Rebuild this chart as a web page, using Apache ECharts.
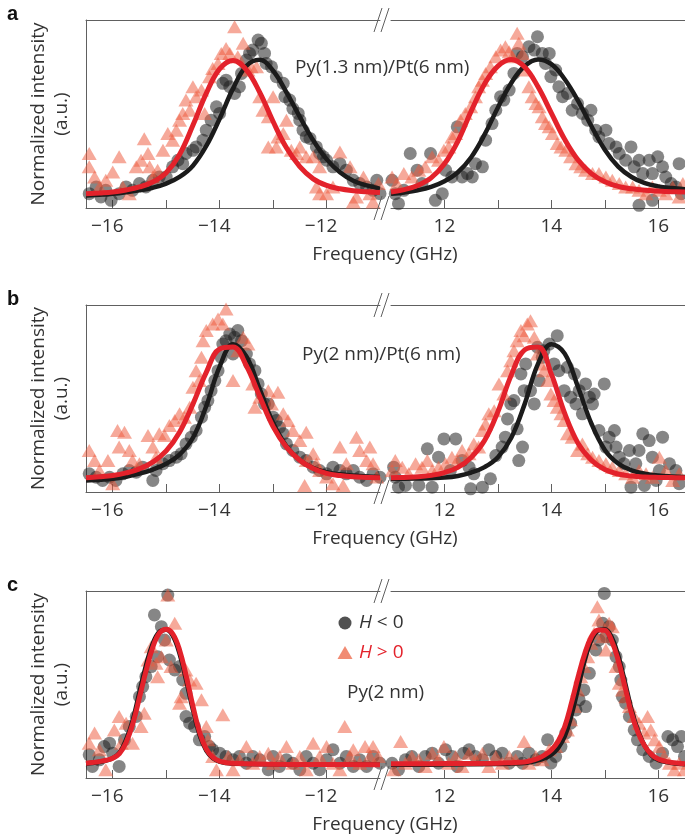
<!DOCTYPE html>
<html>
<head>
<meta charset="utf-8">
<script src="https://cdn.jsdelivr.net/npm/echarts@6/dist/echarts.min.js"></script>
<style>html,body{margin:0;padding:0;background:#fff}#c{width:685px;height:838px}</style>
</head>
<body>
<div id="c"></div>
<script>
// ---------- axis ticks / labels ----------
var LEFT_RANGE = [-16.5, -11];
var RIGHT_RANGE = [11, 16.5];
var LEFT_TICKS = [-16, -15, -14, -13, -12];
var LEFT_LABELS = [-16, -14, -12];
var RIGHT_TICKS = [12, 13, 14, 15, 16];
var RIGHT_LABELS = [12, 14, 16];

// ---------- panel a : Py(1.3 nm)/Pt(6 nm) ----------
var A_L_NEG = [[-16.44,7.6],[-16.31,11.2],[-16.22,5.9],[-16.13,9.4],[-16.03,4.1],[-15.88,7.6],[-15.75,11.2],[-15.63,9.4],[-15.5,13],[-15.38,11.2],[-15.25,14.7],[-15.13,16.5],[-15.0,16.5],[-14.88,21.9],[-14.78,25.4],[-14.69,23.6],[-14.63,29],[-14.5,30.7],[-14.44,32.5],[-14.31,36.1],[-14.25,41.4],[-14.16,46.7],[-14.06,53.8],[-14.0,50.3],[-13.94,66.3],[-13.88,68],[-13.81,64.5],[-13.72,60.9],[-13.63,64.5],[-13.59,71.6],[-13.5,78.7],[-13.44,82.2],[-13.38,84],[-13.28,89.3],[-13.22,87.6],[-13.16,82.2],[-13.13,76.9],[-13.03,75.1],[-12.94,69.8],[-12.81,66.3],[-12.78,59.2],[-12.69,57.4],[-12.63,52.9],[-12.53,50.3],[-12.5,46.7],[-12.44,41.4],[-12.38,37.8],[-12.31,37],[-12.19,32.5],[-12.13,29],[-12.06,27.2],[-12.0,25.4],[-11.88,21.9],[-11.75,23.6],[-11.63,20.1],[-11.5,14.7],[-11.38,13],[-11.25,11.2],[-11.13,9.4],[-11.06,14.7],[-11.0,7.6]];
var A_L_POS = [[-16.44,29],[-16.44,21.9],[-16.34,16.5],[-16.25,11.2],[-16.13,14.7],[-16.0,19.2],[-15.88,27.2],[-15.81,11.2],[-15.69,7.6],[-15.56,21.9],[-15.47,25.4],[-15.41,36.9],[-15.34,29],[-15.31,21.9],[-15.25,16.5],[-15.16,20.1],[-15.06,30.7],[-14.97,39.6],[-14.88,36.1],[-14.81,41.4],[-14.75,46.7],[-14.69,50.3],[-14.63,57.4],[-14.56,52],[-14.5,64.5],[-14.44,59.2],[-14.34,62.7],[-14.28,50.3],[-14.19,69.8],[-14.13,74.2],[-14.03,76.9],[-13.97,82.2],[-13.88,84.9],[-13.81,82.2],[-13.72,96.4],[-13.66,80.5],[-13.56,87.6],[-13.47,73.4],[-13.41,75.1],[-13.31,75.1],[-13.25,59.2],[-13.19,52],[-13.09,48.5],[-13.0,59.2],[-13.09,32.5],[-12.94,32.5],[-12.91,37.8],[-12.81,39.6],[-12.75,46.7],[-12.66,30.7],[-12.56,29],[-12.5,32.5],[-12.38,27.2],[-12.25,27.2],[-12.13,21.9],[-12.19,11.2],[-12.13,7.6],[-12.0,7.6],[-11.88,11.2],[-11.75,29.8],[-11.56,21.9],[-11.5,3.2],[-11.44,5.9],[-11.31,16.5],[-11.19,7.6],[-11.13,3.2],[-11.03,13]];
var A_L_FIT_NEG = [[-16.5,6.7],[-16.25,7.1],[-16,7.6],[-15.75,8.4],[-15.5,9.4],[-15.25,10.8],[-15,13],[-14.75,16.5],[-14.5,22.5],[-14.25,33],[-14,47.5],[-13.75,63.5],[-13.5,75.5],[-13.25,78.8],[-13,73],[-12.75,61.5],[-12.5,48.5],[-12.25,36],[-12,26],[-11.75,19],[-11.5,14.5],[-11.25,12],[-11,10.3]];
var A_L_FIT_POS = [[-16.5,7.6],[-16.25,8.0],[-16,8.5],[-15.75,9.6],[-15.5,11.2],[-15.25,13.8],[-15,18.8],[-14.75,28.5],[-14.5,44],[-14.25,61],[-14,74],[-13.75,78.5],[-13.5,73.5],[-13.25,61.5],[-13,46],[-12.75,32],[-12.5,22],[-12.25,15.5],[-12,12],[-11.75,10.2],[-11.5,9.2],[-11.25,8.6],[-11,8.2]];
var A_R_NEG = [[11.02,14.7],[11.08,7.6],[11.14,2.3],[11.24,9.4],[11.36,29],[11.49,20.1],[11.58,13],[11.74,29],[11.83,4.1],[11.96,7.6],[12.02,20.1],[12.14,16.5],[12.24,43.2],[12.33,16.5],[12.43,18.3],[12.52,16.5],[12.58,23.6],[12.71,21.9],[12.77,36.1],[12.89,44.9],[12.96,52],[13.05,59.2],[13.11,57.4],[13.21,62.7],[13.3,71.6],[13.36,82.2],[13.46,80.5],[13.58,85.8],[13.68,84],[13.74,91.1],[13.83,82.2],[13.89,76.9],[13.96,82.2],[13.99,69.8],[14.08,73.4],[14.14,64.5],[14.21,59.2],[14.3,60.9],[14.39,52],[14.49,55.6],[14.58,50.3],[14.68,46.7],[14.74,52],[14.83,41.4],[14.89,37.8],[15.02,41.4],[15.08,34.3],[15.21,32.5],[15.27,29],[15.39,25.4],[15.49,32.5],[15.55,21.9],[15.64,25.4],[15.71,18.3],[15.83,25.4],[15.89,18.3],[15.99,27.2],[16.08,21.9],[16.14,16.5],[16.24,13],[16.33,11.2],[16.39,23.6],[16.43,7.6],[15.64,1.4],[15.89,4.1]];
var A_R_POS = [[11.02,16.5],[11.11,13],[11.24,18.3],[11.39,16.5],[11.52,20.1],[11.64,21.9],[11.77,27.2],[11.89,25.4],[11.99,30.7],[12.08,32.5],[12.14,37.8],[12.21,39.6],[12.3,46.7],[12.39,50.3],[12.49,53.8],[12.58,59.2],[12.64,64.5],[12.71,68],[12.77,71.6],[12.86,75.1],[12.96,80.5],[13.05,84],[13.14,85.8],[13.21,83.1],[13.27,80.5],[13.36,92.9],[13.39,87.6],[13.46,82.2],[13.52,73.4],[13.58,64.5],[13.64,59.2],[13.71,55.6],[13.77,53.8],[13.83,48.5],[13.89,44.9],[13.96,43.2],[14.02,39.6],[14.11,34.3],[14.18,32.5],[14.27,30.7],[14.36,27.2],[14.46,23.6],[14.55,21.9],[14.64,20.1],[14.77,18.3],[14.89,18.3],[15.02,16.5],[15.14,14.7],[15.27,13],[15.39,11.2],[15.52,11.2],[15.64,9.4],[15.77,7.6],[15.89,11.2],[16.02,9.4],[16.14,7.6],[16.27,11.2],[16.39,5.9],[16.46,13]];
var A_R_FIT_NEG = [[11,7.6],[11.25,8.3],[11.5,9.4],[11.75,11.2],[12,14.2],[12.25,19],[12.5,27],[12.75,39],[13,53.5],[13.25,66.5],[13.5,75.5],[13.75,79],[14,76.5],[14.25,68.5],[14.5,57],[14.75,43.5],[15,31],[15.25,22],[15.5,16.5],[15.75,13.2],[16,11.5],[16.25,10.6],[16.5,10]];
var A_R_FIT_POS = [[11,8.5],[11.25,9.8],[11.5,12],[11.75,16],[12,23.5],[12.25,35.5],[12.5,51.5],[12.75,66],[13,75.5],[13.25,79],[13.5,75],[13.75,64.5],[14,50.5],[14.25,36.5],[14.5,25.5],[14.75,18.3],[15,14],[15.25,11.5],[15.5,10.2],[15.75,9.4],[16,9],[16.25,8.7],[16.5,8.5]];

// ---------- panel b : Py(2 nm)/Pt(6 nm) ----------
var B_L_NEG = [[-16.44,9.7],[-16.31,7.9],[-16.19,6.2],[-16.06,7.9],[-15.94,6.2],[-15.81,9.7],[-15.69,11.5],[-15.56,10.6],[-15.44,13.3],[-15.25,6.2],[-15.19,11.5],[-15.06,15.1],[-14.94,16.8],[-14.81,18.6],[-14.72,20.4],[-14.63,25.7],[-14.53,29.3],[-14.44,32.9],[-14.34,40],[-14.28,45.3],[-14.22,48.9],[-14.16,54.2],[-14.09,59.6],[-14.03,64.9],[-13.97,72],[-13.94,79.1],[-13.88,80.9],[-13.81,84.5],[-13.75,73.8],[-13.72,82.7],[-13.66,86.3],[-13.59,80.9],[-13.5,73.8],[-13.44,68.5],[-13.34,64.9],[-13.28,57.8],[-13.22,52.4],[-13.16,47.1],[-13.09,47.1],[-13.0,40],[-12.94,38.2],[-12.88,34.6],[-12.81,31.1],[-12.75,25.7],[-12.63,22.2],[-12.5,18.6],[-12.38,16.8],[-12.25,13.3],[-12.13,11.5],[-12.0,9.7],[-11.88,13.3],[-11.75,11.5],[-11.63,9.7],[-11.5,11.5],[-11.38,7.9],[-11.25,6.2],[-11.13,9.7],[-11.0,7.9]];
var B_L_POS = [[-16.44,22.2],[-16.34,16.8],[-16.25,11.5],[-16.09,16.8],[-16.0,4.4],[-15.91,32.9],[-15.78,32],[-15.88,24],[-15.69,22.2],[-15.63,16.8],[-15.5,15.1],[-15.34,30.2],[-15.25,24],[-15.19,18.6],[-15.13,31.1],[-15.03,30.2],[-14.94,35.5],[-14.84,38.2],[-14.75,41.8],[-14.66,40],[-14.56,45.3],[-14.5,56],[-14.38,59.6],[-14.44,64.9],[-14.34,72],[-14.31,80.9],[-14.25,86.3],[-14.13,89.8],[-14.03,92.5],[-13.94,89.8],[-13.88,97.8],[-13.75,59.6],[-13.66,75.6],[-13.56,82.7],[-13.47,79.1],[-13.38,57.8],[-13.34,45.3],[-13.25,50.7],[-13.09,54.2],[-13.03,47.1],[-12.91,53.3],[-12.81,41.8],[-12.72,38.2],[-12.63,32.9],[-12.5,27.5],[-12.38,32],[-12.38,16.8],[-12.25,20.4],[-12.19,15.1],[-12.13,11.5],[-12.0,8],[-11.88,4.4],[-11.75,24],[-11.63,15.1],[-11.44,29.3],[-11.38,22.2],[-11.25,16.8],[-11.19,24],[-11.13,15.1],[-11.06,8],[-12.41,3.5],[-11.69,3.5]];
var B_L_FIT_NEG = [[-16.5,6.2],[-16.25,6.6],[-16,7.1],[-15.75,8.2],[-15.5,9.8],[-15.25,12],[-15,15.1],[-14.75,20],[-14.5,29],[-14.25,46],[-14,67],[-13.75,79],[-13.5,72.5],[-13.25,55],[-13,37],[-12.75,24.5],[-12.5,17],[-12.25,12.8],[-12,10.6],[-11.75,9.5],[-11.5,8.8],[-11.25,8.3],[-11,8]];
var B_L_FIT_POS = [[-16.5,7.6],[-16.25,8.1],[-16,8.8],[-15.75,10.2],[-15.5,12.4],[-15.25,16],[-15,22],[-14.75,32],[-14.5,47],[-14.25,64],[-14,76.5],[-13.75,77.5],[-13.5,67.5],[-13.25,51],[-13,35],[-12.75,24],[-12.5,17],[-12.25,12.6],[-12,10],[-11.75,8.8],[-11.5,8.1],[-11.25,7.8],[-11,7.6]];
var B_R_NEG = [[11.05,13.3],[11.08,7.9],[11.14,2.6],[11.27,3.5],[11.52,3.5],[11.68,23.1],[11.77,2.6],[11.89,18.6],[11.99,28.4],[12.11,11.5],[12.21,28.4],[12.33,16.8],[12.46,13.3],[12.55,9.7],[12.49,1.7],[12.71,2.6],[12.86,7.1],[12.96,19.5],[13.08,24],[13.14,29.3],[13.18,39.1],[13.24,47.1],[13.3,48.9],[13.36,33.8],[13.39,16.8],[13.46,24],[13.43,63.1],[13.49,54.2],[13.52,68.5],[13.61,54.2],[13.68,47.1],[13.74,77.4],[13.77,59.6],[13.83,72],[13.86,75.6],[13.96,79.1],[14.05,68.5],[14.11,83.6],[14.14,64.9],[14.24,54.2],[14.3,66.7],[14.36,50.7],[14.43,63.1],[14.46,47.1],[14.52,54.2],[14.58,41.8],[14.64,57.8],[14.71,50.7],[14.77,47.1],[14.8,52.4],[14.89,32.9],[14.99,57.8],[15.02,24],[15.08,29.3],[15.18,32.9],[15.21,24],[15.27,18.6],[15.36,15.1],[15.46,22.2],[15.58,15.1],[15.64,22.2],[15.71,31.1],[15.83,27.5],[15.89,18.6],[16.02,11.5],[16.08,29.3],[16.21,15.1],[16.33,11.5],[16.39,4.4],[15.49,2.6],[15.74,3.5],[15.96,6.2]];
var B_R_POS = [[11.02,11.5],[11.08,16.8],[11.21,13.3],[11.33,9.7],[11.46,15.1],[11.58,13.3],[11.68,16.8],[11.77,11.5],[11.89,13.3],[12.02,15.1],[12.14,18.6],[12.24,16.8],[12.33,22.2],[12.46,20.4],[12.55,25.7],[12.64,24],[12.71,32.9],[12.77,36.4],[12.83,41.8],[12.93,43.5],[13.02,57.8],[13.11,52.4],[13.18,64.9],[13.24,70.2],[13.3,75.6],[13.36,80.9],[13.43,86.3],[13.49,83.6],[13.55,89.8],[13.61,91.6],[13.68,82.7],[13.74,73.8],[13.8,68.5],[13.86,64.9],[13.93,59.6],[13.99,52.4],[14.05,48.9],[14.11,45.3],[14.18,41.8],[14.24,38.2],[14.3,31.1],[14.39,29.3],[14.49,22.2],[14.58,25.7],[14.68,20.4],[14.77,18.6],[14.89,16.8],[15.02,15.1],[15.14,13.3],[15.27,11.5],[15.39,9.7],[15.52,7.9],[15.64,11.5],[15.77,9.7],[15.89,7.9],[16.02,18.6],[16.14,11.5],[16.27,6.2],[16.39,9.7]];
var B_R_FIT_NEG = [[11,7.1],[11.25,7.1],[11.5,7.2],[11.75,7.4],[12,7.7],[12.25,8.6],[12.5,10.4],[12.75,13.3],[13,18.6],[13.25,29],[13.5,47],[13.75,68.5],[14,79],[14.25,74],[14.5,56],[14.75,36.5],[15,22.5],[15.25,15.2],[15.5,11.6],[15.75,9.8],[16,8.8],[16.25,8.3],[16.5,8]];
var B_R_FIT_POS = [[11,7.6],[11.25,7.8],[11.5,8.1],[11.75,8.9],[12,10.4],[12.25,13.2],[12.5,18.5],[12.75,27.5],[13,43],[13.25,62.5],[13.5,76],[13.75,77.5],[14,63],[14.25,42],[14.5,26],[14.75,17],[15,12],[15.25,9.6],[15.5,8.5],[15.75,8],[16,7.8],[16.25,7.7],[16.5,7.6]];

// ---------- panel c : Py(2 nm) ----------
var C_L_NEG = [[-16.44,12.4],[-16.38,6.2],[-16.25,9.7],[-16.16,16.8],[-16.06,18.6],[-16.0,13.3],[-15.88,6.2],[-15.78,20.4],[-15.69,27.5],[-15.56,32.9],[-15.5,43.5],[-15.44,48.9],[-15.38,54.2],[-15.28,59.6],[-15.22,87.2],[-15.16,64.9],[-15.09,80.9],[-15.03,73.8],[-14.94,63.1],[-14.84,57.8],[-14.75,59.6],[-14.69,52.4],[-14.63,45.3],[-14.63,32.9],[-14.56,29.3],[-14.47,27.5],[-14.38,20.4],[-14.28,22.2],[-14.19,16.8],[-14.13,15.1],[-14.0,13.3],[-13.88,11.5],[-13.75,9.7],[-13.63,11.5],[-13.5,7.9],[-13.38,11.5],[-13.25,9.7],[-13.09,4.4],[-13.0,11.5],[-12.88,6.2],[-12.75,9.7],[-12.63,7.9],[-12.5,4.4],[-12.38,11.5],[-12.25,7.9],[-12.13,4.4],[-12.0,9.7],[-11.88,15.1],[-11.75,7.9],[-11.63,11.5],[-11.5,6.2],[-11.38,9.7],[-11.25,6.2],[-11.13,11.5],[-11.0,7.9],[-14.97,97.8]];
var C_L_POS = [[-16.44,18.6],[-16.34,24],[-16.25,15.1],[-16.13,4.4],[-15.97,25.7],[-15.88,32.9],[-15.84,18.6],[-15.75,29.3],[-15.63,18.6],[-15.47,27.5],[-15.41,34.6],[-15.34,63.1],[-15.28,70.2],[-15.19,61.3],[-15.16,54.2],[-15.09,64.9],[-15.0,73.8],[-14.91,59.6],[-14.84,82.7],[-14.75,40],[-14.72,43.5],[-14.63,57.8],[-14.56,52.4],[-14.44,50.7],[-14.34,41.8],[-14.25,27.5],[-14.22,20.4],[-14.13,11.5],[-14.06,4.4],[-13.94,33.8],[-13.84,11.5],[-13.75,4.4],[-13.63,9.7],[-13.5,16.8],[-13.38,7.9],[-13.25,11.5],[-13.09,13.3],[-13.0,7.9],[-12.88,11.5],[-12.75,16.8],[-12.63,7.9],[-12.5,11.5],[-12.38,4.4],[-12.25,18.6],[-12.13,11.5],[-12.0,16.8],[-11.88,7.9],[-11.75,4.4],[-11.66,27.5],[-11.56,11.5],[-11.5,15.1],[-11.38,7.9],[-11.28,16.8],[-11.19,11.5],[-11.13,16.8],[-11.03,11.5],[-14.97,97.8]];
var C_L_FIT_NEG = [[-16.5,7.6],[-16.375,8],[-16.25,8.5],[-16.125,9.3],[-16,10.6],[-15.875,13.5],[-15.75,20.5],[-15.625,31],[-15.5,46],[-15.375,60.5],[-15.25,72],[-15.125,78.3],[-15,79.3],[-14.875,76],[-14.75,66.5],[-14.625,52],[-14.5,36.5],[-14.375,23],[-14.25,14.7],[-14.125,10.6],[-14,8.8],[-13.875,8],[-13.75,7.7],[-13.5,7.5],[-13,7.3],[-12,7.2],[-11,7.1]];
var C_L_FIT_POS = [[-16.5,7.9],[-16.375,8.3],[-16.25,8.8],[-16.125,9.5],[-16,10.6],[-15.875,13],[-15.75,19],[-15.625,29],[-15.5,43],[-15.375,57.5],[-15.25,70],[-15.125,77.5],[-15,79.5],[-14.875,77],[-14.75,68.5],[-14.625,54.5],[-14.5,38.5],[-14.375,24.5],[-14.25,15.5],[-14.125,11],[-14,9],[-13.875,8.2],[-13.75,7.9],[-13.5,7.6],[-13,7.4],[-12,7.2],[-11,7.1]];
var C_R_NEG = [[11.02,7.9],[11.14,4.4],[11.27,9.7],[11.39,11.5],[11.52,6.2],[11.64,11.5],[11.77,13.3],[11.89,7.9],[12.02,15.1],[12.14,11.5],[12.24,6.2],[12.36,13.3],[12.46,15.1],[12.58,11.5],[12.71,9.7],[12.83,15.1],[12.96,11.5],[13.08,13.3],[13.21,7.9],[13.36,11.5],[13.46,7.9],[13.58,13.3],[13.71,9.7],[13.83,11.5],[13.93,20.4],[13.99,7.9],[14.08,11.5],[14.18,16.8],[14.27,24],[14.36,29.3],[14.46,36.4],[14.52,41.8],[14.61,47.1],[14.64,38.2],[14.71,56],[14.83,68.5],[14.89,73.8],[14.96,82.7],[14.99,98.7],[15.02,75.6],[15.08,80.9],[15.14,73.8],[15.21,64.9],[15.27,59.6],[15.3,52.4],[15.33,43.5],[15.39,40],[15.46,32.9],[15.55,25.7],[15.61,20.4],[15.71,15.1],[15.83,11.5],[15.96,7.9],[16.08,13.3],[16.18,22.2],[16.27,20.4],[16.36,16.8],[16.43,22.2],[16.49,11.5]];
var C_R_POS = [[11.05,4.4],[11.18,19.5],[11.27,7.9],[11.39,11.5],[11.52,9.7],[11.64,6.2],[11.77,13.3],[11.89,9.7],[11.99,16.8],[12.08,7.9],[12.21,11.5],[12.33,6.2],[12.46,13.3],[12.58,9.7],[12.71,13.3],[12.83,6.2],[12.96,11.5],[13.08,7.9],[13.21,11.5],[13.33,9.7],[13.49,19.5],[13.58,7.9],[13.71,11.5],[13.83,9.7],[13.96,15.1],[14.08,16.8],[14.21,22.2],[14.3,25.7],[14.36,31.1],[14.43,38.2],[14.49,47.1],[14.55,54.2],[14.61,59.6],[14.68,64.9],[14.74,72],[14.8,77.4],[14.86,91.6],[14.89,84.5],[14.96,75.6],[15.02,68.5],[15.08,82.7],[15.14,80.9],[15.21,59.6],[15.27,50.7],[15.33,47.1],[15.39,43.5],[15.46,38.2],[15.55,32.9],[15.64,29.3],[15.74,24],[15.8,32.9],[15.86,25.7],[15.93,20.4],[16.02,16.8],[16.11,11.5],[16.21,7.9],[16.3,4.4],[16.39,7.9],[16.49,4.4]];
var C_R_FIT_NEG = [[11,7.1],[12,7.2],[13,7.5],[13.25,7.7],[13.5,8],[13.625,8.6],[13.75,9.4],[13.875,10.6],[14,12.4],[14.125,16],[14.25,22.2],[14.375,33.5],[14.5,48],[14.625,63],[14.75,73.8],[14.875,78.8],[15,79.5],[15.125,75.5],[15.25,65.5],[15.375,51.5],[15.5,36.5],[15.625,25],[15.75,17],[15.875,12],[16,9.7],[16.125,8.6],[16.25,8],[16.375,7.6],[16.5,7.4]];
var C_R_FIT_POS = [[11,7.6],[12,7.7],[13,7.9],[13.25,8.2],[13.5,8.6],[13.625,9.3],[13.75,10.4],[13.875,12.3],[14,15],[14.125,19.5],[14.25,27.5],[14.375,40],[14.5,54],[14.625,66.5],[14.75,75.5],[14.875,79.2],[15,79],[15.125,73.5],[15.25,63],[15.375,49],[15.5,34.5],[15.625,24],[15.75,17],[15.875,12.5],[16,10.1],[16.125,9],[16.25,8.3],[16.375,7.9],[16.5,7.6]];

var PANEL_LETTERS = ['a', 'b', 'c'];
var PANEL_NOTES = ['Py(1.3 nm)/Pt(6 nm)', 'Py(2 nm)/Pt(6 nm)', ''];
var X_TITLE = 'Frequency (GHz)';
var Y_TITLE = 'Normalized intensity\n(a.u.)';

// ---------- layout & style ----------
var FONT = '"Open Sans", "Noto Sans", sans-serif';
var FS = 19;
var TXT = '#333333';
var AXC = '#606060';
var CIRC = 'rgba(32,32,32,0.68)';
var TRI = 'rgba(238,92,62,0.66)';
var BLK = '#1b1b1b';
var RED = '#e3222b';
var PANEL_TOPS = [20, 305, 591];
var PANEL_HEIGHTS = [188, 187, 187];
var LEFT_X = 86, RIGHT_X = 391, HALF_W = 294;

var panelData = [
  [A_L_NEG, A_L_POS, A_L_FIT_NEG, A_L_FIT_POS, A_R_NEG, A_R_POS, A_R_FIT_NEG, A_R_FIT_POS],
  [B_L_NEG, B_L_POS, B_L_FIT_NEG, B_L_FIT_POS, B_R_NEG, B_R_POS, B_R_FIT_NEG, B_R_FIT_POS],
  [C_L_NEG, C_L_POS, C_L_FIT_NEG, C_L_FIT_POS, C_R_NEG, C_R_POS, C_R_FIT_NEG, C_R_FIT_POS]
];

function fmt(v) {
  if (v < 0) return '\u2212' + Math.abs(v) + '{h|\u2212}';
  return String(v);
}
function txt(x, y, text, opts) {
  var st = { text: text, font: (opts.font || FS + 'px ' + FONT), fill: opts.fill || TXT,
    align: opts.align || 'left', verticalAlign: 'middle', textAlign: opts.align || 'left', textVerticalAlign: 'middle' };
  if (opts.lineHeight) st.lineHeight = opts.lineHeight;
  if (opts.rich) st.rich = opts.rich;
  var el = { type: 'text', x: x, y: y, style: st, z: 10 };
  if (opts.rotation) el.rotation = opts.rotation;
  return el;
}

var grid = [], xAxis = [], yAxis = [], series = [], graphic = [];
for (var p = 0; p < 3; p++) {
  var pTop = PANEL_TOPS[p], pH = PANEL_HEIGHTS[p], pBot = pTop + pH;
  for (var s = 0; s < 2; s++) {
    var gi = p * 2 + s;
    var isLeft = s === 0;
    grid.push({ left: isLeft ? LEFT_X : RIGHT_X, top: pTop, width: HALF_W, height: pH });
    var rng = isLeft ? LEFT_RANGE : RIGHT_RANGE;
    xAxis.push({
      type: 'value', gridIndex: gi, position: 'bottom', min: rng[0], max: rng[1],
      axisLine: { show: true, onZero: false, lineStyle: { color: AXC, width: 1 } },
      axisTick: { show: true, inside: true, length: 8, customValues: isLeft ? LEFT_TICKS : RIGHT_TICKS, lineStyle: { color: AXC } },
      axisLabel: { show: true, margin: 9, customValues: isLeft ? LEFT_LABELS : RIGHT_LABELS, formatter: fmt,
        color: TXT, fontSize: FS, fontFamily: FONT, rich: { h: { color: 'rgba(0,0,0,0)', fontSize: FS, fontFamily: FONT } } },
      splitLine: { show: false }
    });
    xAxis.push({
      type: 'value', gridIndex: gi, position: 'top', min: rng[0], max: rng[1],
      axisLine: { show: true, onZero: false, lineStyle: { color: AXC, width: 1 } },
      axisTick: { show: false }, axisLabel: { show: false }, splitLine: { show: false }
    });
    yAxis.push({
      type: 'value', gridIndex: gi, min: 0, max: 100,
      axisLine: { show: isLeft, onZero: false, lineStyle: { color: AXC, width: 1 } },
      axisTick: { show: false }, axisLabel: { show: false }, splitLine: { show: false }
    });
    var d = panelData[p];
    var off = isLeft ? 0 : 4;
    series.push({ type: 'scatter', xAxisIndex: gi * 2, yAxisIndex: gi, data: d[off], symbol: 'circle', symbolSize: 13,
      itemStyle: { color: CIRC }, clip: true, z: 2 });
    series.push({ type: 'scatter', xAxisIndex: gi * 2, yAxisIndex: gi, data: d[off + 1], symbol: 'triangle', symbolSize: [15, 13],
      itemStyle: { color: TRI }, clip: true, z: 3 });
    series.push({ type: 'line', xAxisIndex: gi * 2, yAxisIndex: gi, data: d[off + 2], smooth: 0.4,
      symbol: 'none', lineStyle: { color: BLK, width: 4.5 }, clip: true, z: 4 });
    series.push({ type: 'line', xAxisIndex: gi * 2, yAxisIndex: gi, data: d[off + 3], smooth: 0.4,
      symbol: 'none', lineStyle: { color: RED, width: 5 }, clip: true, z: 5 });
  }
  // break marks
  [pTop, pBot].forEach(function (yc) {
    [374, 381].forEach(function (x0) {
      graphic.push({ type: 'line', shape: { x1: x0, y1: yc + 12, x2: x0 + 8, y2: yc - 12 },
        style: { stroke: AXC, lineWidth: 1 }, z: 10 });
    });
  });
  graphic.push(txt(7, pTop - 6, PANEL_LETTERS[p], { font: 'bold 20px "Liberation Sans", Arial, sans-serif', fill: '#111' }));
  graphic.push(txt(385, pBot + 47, X_TITLE, { align: 'center' }));
  graphic.push(txt(50, pTop + pH / 2, Y_TITLE, { align: 'center', rotation: Math.PI / 2, lineHeight: 23 }));
  if (PANEL_NOTES[p]) {
    graphic.push(txt(p === 0 ? 295 : 302, pTop + (p === 0 ? 48 : 50), PANEL_NOTES[p], {}));
  }
}
// legend for panel c
graphic.push({ type: 'circle', shape: { cx: 345, cy: 623, r: 6.5 }, style: { fill: 'rgba(50,50,50,0.85)' }, z: 10 });
graphic.push({ type: 'polygon', shape: { points: [[337.5, 659], [352.5, 659], [345, 646]] }, style: { fill: 'rgba(238,110,80,0.8)' }, z: 10 });
graphic.push(txt(359, 623, '{i|H} < 0', { rich: { i: { fontStyle: 'italic', fontSize: FS, fontFamily: FONT, fill: TXT, color: TXT } } }));
graphic.push(txt(359, 653, '{i|H} > 0', { fill: RED, rich: { i: { fontStyle: 'italic', fontSize: FS, fontFamily: FONT, fill: RED, color: RED } } }));
graphic.push(txt(347, 693, 'Py(2 nm)', {}));

var chart = echarts.init(document.getElementById('c'), null, { renderer: 'canvas' });
chart.setOption({ animation: false, backgroundColor: '#fff', grid: grid, xAxis: xAxis, yAxis: yAxis, series: series, graphic: graphic });
</script>
</body>
</html>
